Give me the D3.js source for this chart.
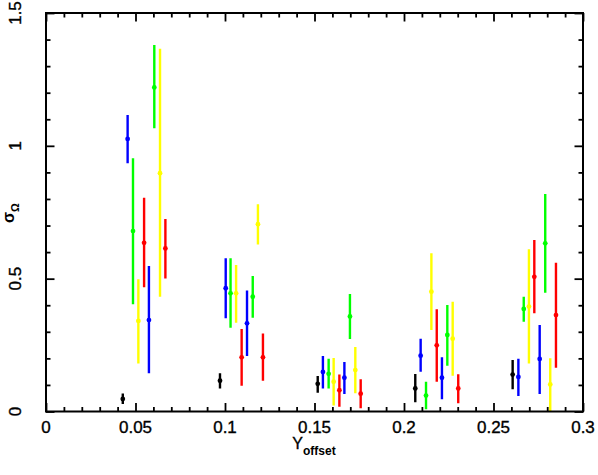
<!DOCTYPE html>
<html>
<head>
<meta charset="utf-8">
<script src="https://cdn.jsdelivr.net/npm/d3@7"></script>
<style>
  html, body { margin: 0; padding: 0; background: #fff; }
  svg { display: block; }
  text { font-family: "Liberation Sans", Arial, Helvetica, sans-serif; fill: #000; }
</style>
</head>
<body>
<svg id="chart" width="598" height="475"></svg>
<script>
// Each point: [Y_offset, sigma, lower, upper]
const black = [
  [0.0429, 0.047, 0.028, 0.068],
  [0.0972, 0.116, 0.087, 0.144],
  [0.1518, 0.104, 0.071, 0.134],
  [0.2063, 0.087, 0.035, 0.141],
  [0.2607, 0.139, 0.084, 0.194]
];
const blue = [
  [0.0456, 1.026, 0.934, 1.116],
  [0.0575, 0.344, 0.144, 0.548],
  [0.1004, 0.464, 0.351, 0.577],
  [0.1123, 0.332, 0.209, 0.455],
  [0.1547, 0.149, 0.087, 0.209],
  [0.1667, 0.127, 0.066, 0.186],
  [0.2093, 0.210, 0.150, 0.274],
  [0.2212, 0.127, 0.046, 0.204],
  [0.2639, 0.130, 0.058, 0.199],
  [0.2758, 0.198, 0.066, 0.326]
];
const green = [
  [0.0486, 0.679, 0.404, 0.953],
  [0.0605, 1.220, 1.066, 1.380],
  [0.1031, 0.445, 0.315, 0.577],
  [0.1155, 0.432, 0.353, 0.510],
  [0.1579, 0.142, 0.087, 0.199],
  [0.1698, 0.358, 0.273, 0.442],
  [0.2123, 0.060, 0.008, 0.112],
  [0.2242, 0.288, 0.172, 0.401],
  [0.2669, 0.386, 0.338, 0.432],
  [0.2789, 0.633, 0.447, 0.819]
];
const yellow = [
  [0.0516, 0.341, 0.181, 0.498],
  [0.0637, 0.897, 0.432, 1.365],
  [0.1062, 0.445, 0.334, 0.551],
  [0.1184, 0.705, 0.629, 0.780],
  [0.1607, 0.112, 0.023, 0.201],
  [0.1728, 0.156, 0.069, 0.243],
  [0.2153, 0.451, 0.307, 0.596],
  [0.2272, 0.274, 0.135, 0.413],
  [0.2698, 0.395, 0.181, 0.611],
  [0.2817, 0.102, -0.010, 0.200]
];
const red = [
  [0.0548, 0.635, 0.468, 0.805],
  [0.0667, 0.614, 0.501, 0.725],
  [0.1093, 0.204, 0.097, 0.311],
  [0.1212, 0.204, 0.116, 0.294],
  [0.1639, 0.080, 0.018, 0.139],
  [0.1758, 0.067, 0.012, 0.121],
  [0.2183, 0.249, 0.112, 0.385],
  [0.2303, 0.087, 0.031, 0.140],
  [0.2728, 0.507, 0.370, 0.646],
  [0.2849, 0.363, 0.165, 0.560]
];
const seriesNames = ["black", "blue", "green", "yellow", "red"];
const seriesColors = ["#000000", "#0000ff", "#00ff00", "#ffff00", "#ff0000"];
const seriesData = [black, blue, green, yellow, red];

const xMajorTicks = [0, 0.05, 0.1, 0.15, 0.2, 0.25, 0.3];
const xTickLabels = ["0", "0.05", "0.1", "0.15", "0.2", "0.25", "0.3"];
const yMajorTicks = [0, 0.5, 1, 1.5];
const yTickLabels = ["0", "0.5", "1", "1.5"];

const svg = d3.select("#chart");
const L = 46, R = 583, T = 13, B = 411.5;
const x = d3.scaleLinear().domain([0, 0.3]).range([L, R]);
const y = d3.scaleLinear().domain([0, 1.5]).range([B, T]);

const xMinor = d3.range(0, 31).map(i => i / 100);
const yMinor = d3.range(0, 16).map(i => i / 10);
const isMajorX = v => xMajorTicks.some(m => Math.abs(m - v) < 1e-9);
const isMajorY = v => yMajorTicks.some(m => Math.abs(m - v) < 1e-9);

// clip
svg.append("clipPath").attr("id", "clip").append("rect")
  .attr("x", L).attr("y", T).attr("width", R - L).attr("height", B - T);

// Error bars
const plot = svg.append("g").attr("clip-path", "url(#clip)");
seriesData.forEach((data, si) => {
  const g = plot.append("g").attr("class", seriesNames[si]);
  g.selectAll("line").data(data).join("line")
    .attr("x1", d => x(d[0])).attr("x2", d => x(d[0]))
    .attr("y1", d => y(d[2])).attr("y2", d => y(d[3]))
    .attr("stroke", seriesColors[si]).attr("stroke-width", 2.4);
  g.selectAll("circle").data(data).join("circle")
    .attr("cx", d => x(d[0])).attr("cy", d => y(d[1]))
    .attr("r", 2.4).attr("fill", seriesColors[si]);
});

// Axes using d3 axis generators (inward ticks)
function styleAxis(sel) {
  sel.select(".domain").remove();
  sel.selectAll(".tick line").attr("stroke", "#000").attr("stroke-width", 1.8);
  sel.selectAll(".tick text").remove();
}
svg.append("g").attr("transform", `translate(0,${B})`)
  .call(d3.axisTop(x).tickValues(xMinor).tickSize(0))
  .call(styleAxis)
  .call(g => g.selectAll(".tick line").attr("y2", d => isMajorX(d) ? -8.5 : -4.5));
svg.append("g").attr("transform", `translate(0,${T})`)
  .call(d3.axisBottom(x).tickValues(xMinor).tickSize(0))
  .call(styleAxis)
  .call(g => g.selectAll(".tick line").attr("y2", d => isMajorX(d) ? 8.5 : 4.5));
svg.append("g").attr("transform", `translate(${L},0)`)
  .call(d3.axisRight(y).tickValues(yMinor).tickSize(0))
  .call(styleAxis)
  .call(g => g.selectAll(".tick line").attr("x2", d => isMajorY(d) ? 8.5 : 4.5));
svg.append("g").attr("transform", `translate(${R},0)`)
  .call(d3.axisLeft(y).tickValues(yMinor).tickSize(0))
  .call(styleAxis)
  .call(g => g.selectAll(".tick line").attr("x2", d => isMajorY(d) ? -8.5 : -4.5));

// Frame
svg.append("rect").attr("x", L).attr("y", T).attr("width", R - L).attr("height", B - T)
  .attr("fill", "none").attr("stroke", "#000").attr("stroke-width", 2);

// Tick labels
svg.append("g").selectAll("text").data(xMajorTicks).join("text")
  .attr("x", d => x(d)).attr("y", 433)
  .attr("text-anchor", "middle").attr("font-size", 17)
  .attr("stroke", "#000").attr("stroke-width", 0.35)
  .text((d, i) => xTickLabels[i]);
svg.append("g").selectAll("text").data(yMajorTicks).join("text")
  .attr("transform", d => `translate(21,${y(d)}) rotate(-90)`)
  .attr("text-anchor", "middle").attr("font-size", 17)
  .attr("stroke", "#000").attr("stroke-width", 0.35)
  .text((d, i) => yTickLabels[i]);

// Axis titles
const xt = svg.append("text").attr("x", 314).attr("y", 449)
  .attr("text-anchor", "middle").attr("font-size", 16)
  .attr("stroke", "#000").attr("stroke-width", 0.35);
xt.append("tspan").text("Y");
xt.append("tspan").attr("dy", 6).attr("font-size", 12).attr("font-weight", "bold").attr("stroke-width", 0).text("offset");

const yt = svg.append("text").attr("transform", "translate(14,213) rotate(-90)")
  .attr("text-anchor", "middle").attr("font-size", 16).attr("font-weight", "bold");
yt.append("tspan").text("σ");
yt.append("tspan").attr("dy", 5).attr("font-size", 11).text("Ω");
</script>
</body>
</html>
